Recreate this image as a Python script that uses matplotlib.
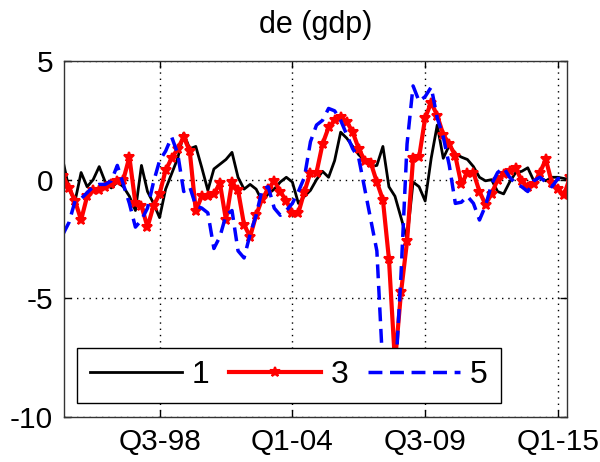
import numpy as np
import matplotlib
matplotlib.use("Agg")
import matplotlib.pyplot as plt

plt.rcParams['font.family'] = ['Liberation Sans', 'DejaVu Sans']
plt.rcParams['axes.unicode_minus'] = False

# Quarterly observations, Q3-94 onward
h1 = [0.8, -0.4, -0.9, 0.3, -0.3, 0.0, 0.55, -0.1, -0.35, -0.1,
      -0.3, -0.7, -1.3, 0.6, -0.5, -1.0, -1.6, -0.4, 0.25, 0.9,
      1.95, 1.3, 1.4, 0.5, -0.45, 0.45, 0.65, 0.85, 1.15, 0.1,
      -0.4, -0.2, -0.4, -0.9, -0.6, -0.4, -0.1, 0.1, -0.1, -1.0,
      -0.7, -0.45, 0.0, 0.35, 0.1, 0.8, 2.0, 1.75, 1.4, 1.05,
      0.8, 0.55, 0.6, 1.4, -0.3, -0.7, -1.6, -2.5, -0.1, -0.3,
      -0.9, 0.9, 2.3, 0.9, 1.45, 1.1, 0.95, 0.85, 0.55, 0.1,
      -0.05, 0.0, -0.5, -0.6, -0.1, 0.3, 0.35, 0.5, -0.05, 0.1,
      -0.05, 0.1, 0.1, 0.05, 0.0]

h3 = [0.15, -0.35, -0.9, -1.7, -0.7, -0.45, -0.45, -0.3, -0.2, -0.05,
      0.0, 0.95, -1.0, -1.1, -2.0, -1.1, -0.6, 0.4, 0.9, 1.3,
      1.8, 1.2, -1.3, -0.7, -0.7, -0.6, -0.15, -1.7, -0.1, -0.45,
      -1.9, -2.4, -1.5, -0.8, -0.4, -0.05, -0.5, -0.9, -1.4, -1.4,
      -0.5, 0.3, 0.3, 1.5, 2.2, 2.5, 2.65, 2.45, 2.0, 1.3,
      0.8, 0.7, -0.1, -0.85, -3.35, -7.7, -4.75, -2.6, 0.9, 0.95,
      2.6, 3.25, 2.7, 1.9, 1.5, 1.0, -0.2, 0.3, 0.3, -0.5,
      -1.05, -0.6, 0.0, 0.25, 0.35, 0.5, -0.05, -0.3, -0.2, 0.3,
      0.85, -0.15, -0.4, -0.65, 0.1]

h5 = [-2.3, -1.8, -0.9, -0.8, -0.55, -0.3, -0.2, -0.2, -0.05, 0.6,
      -0.2, -1.0, -2.0, -1.7, -1.2, -0.1, 0.8, 1.2, 1.8, 1.1,
      -0.5, -0.3, -1.1, -1.2, -1.4, -2.9, -2.4, -1.5, -1.3, -3.0,
      -3.3, -2.3, -1.5, -0.4, -0.3, -1.2, -1.5, -1.3, -1.0, -0.5,
      0.1, 1.6, 2.3, 2.5, 3.0, 2.9, 2.5, 1.9, 1.3, 0.9,
      -0.4, -1.7, -3.0, -8.0, -9.3, -8.6, -4.0, 1.5, 3.95, 3.3,
      3.5, 3.9, 2.6, 1.8, 0.6, -1.0, -0.95, -0.7, -1.0, -1.7,
      -1.1, -0.2, 0.3, 0.5, 0.1, -0.15, -0.3, -0.5, -0.05, 0.1,
      -0.1, -0.3, 0.05, 0.0, -0.05]

tick_pos = [17, 39, 61, 83]
tick_labels = ['Q3-98', 'Q1-04', 'Q3-09', 'Q1-15']
series_names = ['1', '3', '5']

t = np.arange(1, len(h1) + 1)

fig = plt.figure(figsize=(6.0, 4.62), dpi=100)
ax = fig.add_axes([0.107, 0.0974, 0.838, 0.7706])

ax.plot(t, h1, color='black', lw=2.0, label=series_names[0])
ax.plot(t, h3, color='red', lw=3.0, marker='*', ms=7, mew=1.5,
        label=series_names[1])
ax.plot(t, h5, color='blue', lw=2.5, ls=(0, (4, 2.2)), label=series_names[2])

ax.set_xlim(1.2, 84.5)
ax.set_ylim(-10, 5)
ax.set_yticks([-10, -5, 0, 5])
ax.set_xticks(tick_pos)
ax.set_xticklabels(tick_labels)
ax.tick_params(direction='in', length=5, width=1, top=True, right=True,
               labelsize=21.5, pad=8)
ax.grid(True, color='black', ls=(0, (1, 3.5)), lw=1.0)
for s in ax.spines.values():
    s.set_linewidth(1.0)
    s.set_color('#333333')

ax.set_title('de (gdp)', fontsize=22, pad=20)

leg = ax.legend(loc='lower left', bbox_to_anchor=(0.025, 0.039), ncol=3,
                fontsize=23, frameon=True, fancybox=False, framealpha=1,
                edgecolor='black', handlelength=2.9, handletextpad=0.3,
                columnspacing=0.6, borderpad=0.4, borderaxespad=0)
leg.get_frame().set_linewidth(1.0)
leg.set_zorder(5)

fig.savefig('out.png', dpi=100)
